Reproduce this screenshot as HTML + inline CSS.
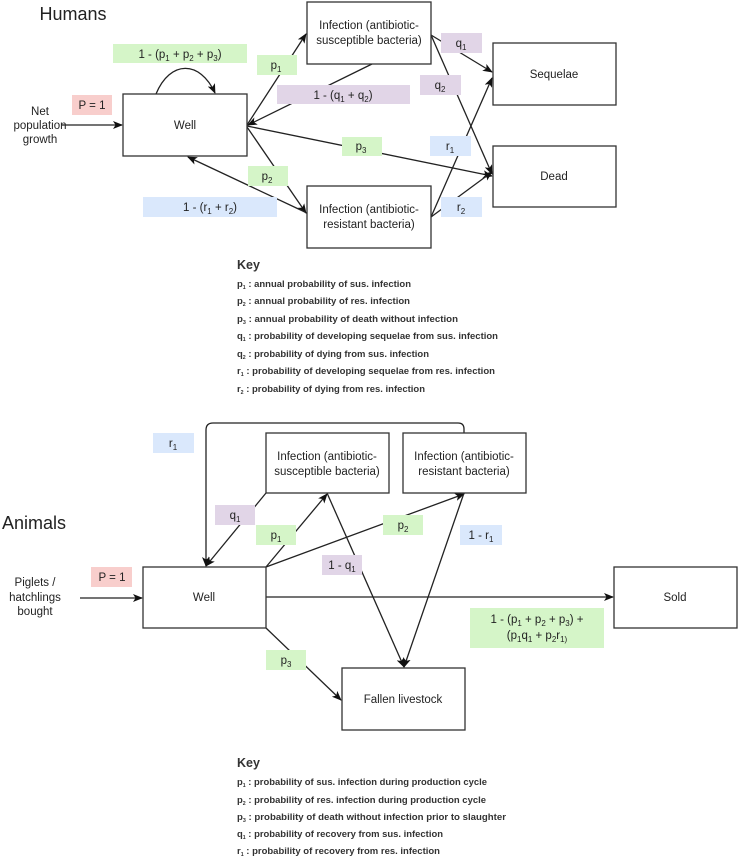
<!DOCTYPE html>
<html><head><meta charset="utf-8"><style>
html,body{margin:0;padding:0;background:#fff}
svg{display:block}
text{font-family:"Liberation Sans",sans-serif;fill:#222}
.n{font-size:11.5px}
.k{font-size:9px;font-weight:bold;fill:#333}
</style></head><body>
<svg width="739" height="858" viewBox="0 0 739 858" xmlns="http://www.w3.org/2000/svg">
<defs><marker id="a" markerWidth="10" markerHeight="8" refX="9" refY="4" orient="auto" markerUnits="userSpaceOnUse"><path d="M0,0 L10,4 L0,8 L2.5,4 Z" fill="#111"/></marker></defs>
<g stroke="#222" stroke-width="1.3" fill="none">
<!-- Humans lines -->
<line x1="62" y1="125" x2="122" y2="125" marker-end="url(#a)"/>
<path d="M156,94 C170,60 200,60 215,93" marker-end="url(#a)"/>
<line x1="247" y1="125" x2="306" y2="34" marker-end="url(#a)"/>
<line x1="372" y1="64" x2="248" y2="125" marker-end="url(#a)"/>
<line x1="247" y1="126" x2="492" y2="176" marker-end="url(#a)"/>
<line x1="247" y1="127" x2="306" y2="213" marker-end="url(#a)"/>
<line x1="307" y1="213" x2="188" y2="157" marker-end="url(#a)"/>
<line x1="431" y1="35" x2="492" y2="72" marker-end="url(#a)"/>
<line x1="431" y1="35" x2="492" y2="174" marker-end="url(#a)"/>
<line x1="431" y1="217" x2="492" y2="78" marker-end="url(#a)"/>
<line x1="431" y1="217" x2="492" y2="172" marker-end="url(#a)"/>
<!-- Animals lines -->
<line x1="80" y1="598" x2="142" y2="598" marker-end="url(#a)"/>
<path d="M464,433 L464,429 Q464,423 458,423 L213,423 Q206,423 206,430 L206,566" marker-end="url(#a)"/>
<line x1="266" y1="493" x2="206" y2="566" marker-end="url(#a)"/>
<line x1="266" y1="567" x2="327" y2="494" marker-end="url(#a)"/>
<line x1="266" y1="567" x2="464" y2="494" marker-end="url(#a)"/>
<line x1="464" y1="493" x2="404" y2="667" marker-end="url(#a)"/>
<line x1="327" y1="493" x2="404" y2="667" marker-end="url(#a)"/>
<line x1="266" y1="597" x2="613" y2="597" marker-end="url(#a)"/>
<line x1="266" y1="628" x2="341" y2="700" marker-end="url(#a)"/>
</g>
<!-- boxes -->
<g fill="#fff" stroke="#333" stroke-width="1.3">
<rect x="123" y="94" width="124" height="62"/>
<rect x="307" y="2" width="124" height="62"/>
<rect x="493" y="43" width="123" height="62"/>
<rect x="493" y="146" width="123" height="61"/>
<rect x="307" y="186" width="124" height="62"/>
<rect x="143" y="567" width="123" height="61"/>
<rect x="266" y="433" width="123" height="60"/>
<rect x="403" y="433" width="123" height="60"/>
<rect x="342" y="668" width="123" height="62"/>
<rect x="614" y="567" width="123" height="61"/>
</g>
<!-- labels bg -->
<g>
<rect x="72" y="95" width="40" height="20" fill="#f8cecc"/>
<rect x="113" y="44" width="134" height="19" fill="#d5f5c8"/>
<rect x="257" y="55" width="40" height="20" fill="#d5f5c8"/>
<rect x="277" y="85" width="133" height="19" fill="#e1d5e7"/>
<rect x="342" y="137" width="40" height="19" fill="#d5f5c8"/>
<rect x="248" y="166" width="40" height="20" fill="#d5f5c8"/>
<rect x="143" y="197" width="134" height="20" fill="#dae8fc"/>
<rect x="441" y="33" width="41" height="20" fill="#e1d5e7"/>
<rect x="420" y="75" width="41" height="20" fill="#e1d5e7"/>
<rect x="430" y="136" width="41" height="20" fill="#dae8fc"/>
<rect x="441" y="197" width="41" height="20" fill="#dae8fc"/>
<rect x="91" y="567" width="41" height="20" fill="#f8cecc"/>
<rect x="153" y="433" width="41" height="20" fill="#dae8fc"/>
<rect x="215" y="505" width="40" height="20" fill="#e1d5e7"/>
<rect x="256" y="525" width="40" height="20" fill="#d5f5c8"/>
<rect x="383" y="515" width="40" height="20" fill="#d5f5c8"/>
<rect x="460" y="525" width="42" height="20" fill="#dae8fc"/>
<rect x="322" y="555" width="40" height="20" fill="#e1d5e7"/>
<rect x="470" y="608" width="134" height="40" fill="#d5f5c8"/>
<rect x="266" y="650" width="40" height="20" fill="#d5f5c8"/>
</g>
<!-- texts -->
<g class="n" text-anchor="middle">
<text x="73" y="20" style="font-size:18px">Humans</text>
<text x="34" y="529" style="font-size:18px">Animals</text>
<text x="40" y="115">Net</text><text x="40" y="129">population</text><text x="40" y="143">growth</text>
<text x="35" y="586">Piglets /</text><text x="35" y="601">hatchlings</text><text x="35" y="615">bought</text>
<text x="185" y="129">Well</text>
<text x="369" y="29">Infection (antibiotic-</text><text x="369" y="44">susceptible bacteria)</text>
<text x="554" y="78">Sequelae</text>
<text x="554" y="180">Dead</text>
<text x="369" y="213">Infection (antibiotic-</text><text x="369" y="228">resistant bacteria)</text>
<text x="204" y="601">Well</text>
<text x="327" y="460">Infection (antibiotic-</text><text x="327" y="475">susceptible bacteria)</text>
<text x="464" y="460">Infection (antibiotic-</text><text x="464" y="475">resistant bacteria)</text>
<text x="403" y="703">Fallen livestock</text>
<text x="675" y="601">Sold</text>
<text x="92" y="109">P = 1</text>
<text x="112" y="581">P = 1</text>
<text x="180" y="58">1 - (p<tspan font-size="8" dy="3">1</tspan><tspan dy="-3"> + p</tspan><tspan font-size="8" dy="3">2</tspan><tspan dy="-3"> + p</tspan><tspan font-size="8" dy="3">3</tspan><tspan dy="-3">)</tspan></text>
<text x="276" y="69">p<tspan font-size="8" dy="3">1</tspan></text>
<text x="343" y="99">1 - (q<tspan font-size="8" dy="3">1</tspan><tspan dy="-3"> + q</tspan><tspan font-size="8" dy="3">2</tspan><tspan dy="-3">)</tspan></text>
<text x="361" y="150">p<tspan font-size="8" dy="3">3</tspan></text>
<text x="267" y="180">p<tspan font-size="8" dy="3">2</tspan></text>
<text x="210" y="211">1 - (r<tspan font-size="8" dy="3">1</tspan><tspan dy="-3"> + r</tspan><tspan font-size="8" dy="3">2</tspan><tspan dy="-3">)</tspan></text>
<text x="461" y="47">q<tspan font-size="8" dy="3">1</tspan></text>
<text x="440" y="89">q<tspan font-size="8" dy="3">2</tspan></text>
<text x="450" y="150">r<tspan font-size="8" dy="3">1</tspan></text>
<text x="461" y="211">r<tspan font-size="8" dy="3">2</tspan></text>
<text x="173" y="447">r<tspan font-size="8" dy="3">1</tspan></text>
<text x="235" y="519">q<tspan font-size="8" dy="3">1</tspan></text>
<text x="276" y="539">p<tspan font-size="8" dy="3">1</tspan></text>
<text x="403" y="529">p<tspan font-size="8" dy="3">2</tspan></text>
<text x="481" y="539">1 - r<tspan font-size="8" dy="3">1</tspan></text>
<text x="342" y="569">1 - q<tspan font-size="8" dy="3">1</tspan></text>
<text x="286" y="664">p<tspan font-size="8" dy="3">3</tspan></text>
<text x="537" y="623">1 - (p<tspan font-size="8" dy="3">1</tspan><tspan dy="-3"> + p</tspan><tspan font-size="8" dy="3">2</tspan><tspan dy="-3"> + p</tspan><tspan font-size="8" dy="3">3</tspan><tspan dy="-3">) +</tspan></text>
<text x="537" y="639">(p<tspan font-size="8" dy="3">1</tspan><tspan dy="-3">q</tspan><tspan font-size="8" dy="3">1</tspan><tspan dy="-3"> + p</tspan><tspan font-size="8" dy="3">2</tspan><tspan dy="-3">r</tspan><tspan font-size="8" dy="3">1)</tspan></text>
</g>
<!-- keys -->
<g>
<text x="237" y="269" style="font-size:12.5px;font-weight:bold;fill:#333">Key</text>
<text class="k" x="237" y="287" textLength="174" lengthAdjust="spacingAndGlyphs">p<tspan font-size="5" dy="2">1</tspan><tspan dy="-2"> : annual probability of sus. infection</tspan></text>
<text class="k" x="237" y="304" textLength="173" lengthAdjust="spacingAndGlyphs">p<tspan font-size="5" dy="2">2</tspan><tspan dy="-2"> : annual probability of res. infection</tspan></text>
<text class="k" x="237" y="322" textLength="221" lengthAdjust="spacingAndGlyphs">p<tspan font-size="5" dy="2">3</tspan><tspan dy="-2"> : annual probability of death without infection</tspan></text>
<text class="k" x="237" y="339" textLength="261" lengthAdjust="spacingAndGlyphs">q<tspan font-size="5" dy="2">1</tspan><tspan dy="-2"> : probability of developing sequelae from sus. infection</tspan></text>
<text class="k" x="237" y="357" textLength="192" lengthAdjust="spacingAndGlyphs">q<tspan font-size="5" dy="2">2</tspan><tspan dy="-2"> : probability of dying from sus. infection</tspan></text>
<text class="k" x="237" y="374" textLength="258" lengthAdjust="spacingAndGlyphs">r<tspan font-size="5" dy="2">1</tspan><tspan dy="-2"> : probability of developing sequelae from res. infection</tspan></text>
<text class="k" x="237" y="392" textLength="188" lengthAdjust="spacingAndGlyphs">r<tspan font-size="5" dy="2">2</tspan><tspan dy="-2"> : probability of dying from res. infection</tspan></text>

<text x="237" y="767" style="font-size:12.5px;font-weight:bold;fill:#333">Key</text>
<text class="k" x="237" y="785" textLength="250" lengthAdjust="spacingAndGlyphs">p<tspan font-size="5" dy="2">1</tspan><tspan dy="-2"> : probability of sus. infection during production cycle</tspan></text>
<text class="k" x="237" y="803" textLength="249" lengthAdjust="spacingAndGlyphs">p<tspan font-size="5" dy="2">2</tspan><tspan dy="-2"> : probability of res. infection during production cycle</tspan></text>
<text class="k" x="237" y="820" textLength="269" lengthAdjust="spacingAndGlyphs">p<tspan font-size="5" dy="2">3</tspan><tspan dy="-2"> : probability of death without infection prior to slaughter</tspan></text>
<text class="k" x="237" y="837" textLength="206" lengthAdjust="spacingAndGlyphs">q<tspan font-size="5" dy="2">1</tspan><tspan dy="-2"> : probability of recovery from sus. infection</tspan></text>
<text class="k" x="237" y="854" textLength="203" lengthAdjust="spacingAndGlyphs">r<tspan font-size="5" dy="2">1</tspan><tspan dy="-2"> : probability of recovery from res. infection</tspan></text>
</g>
</svg>
</body></html>
